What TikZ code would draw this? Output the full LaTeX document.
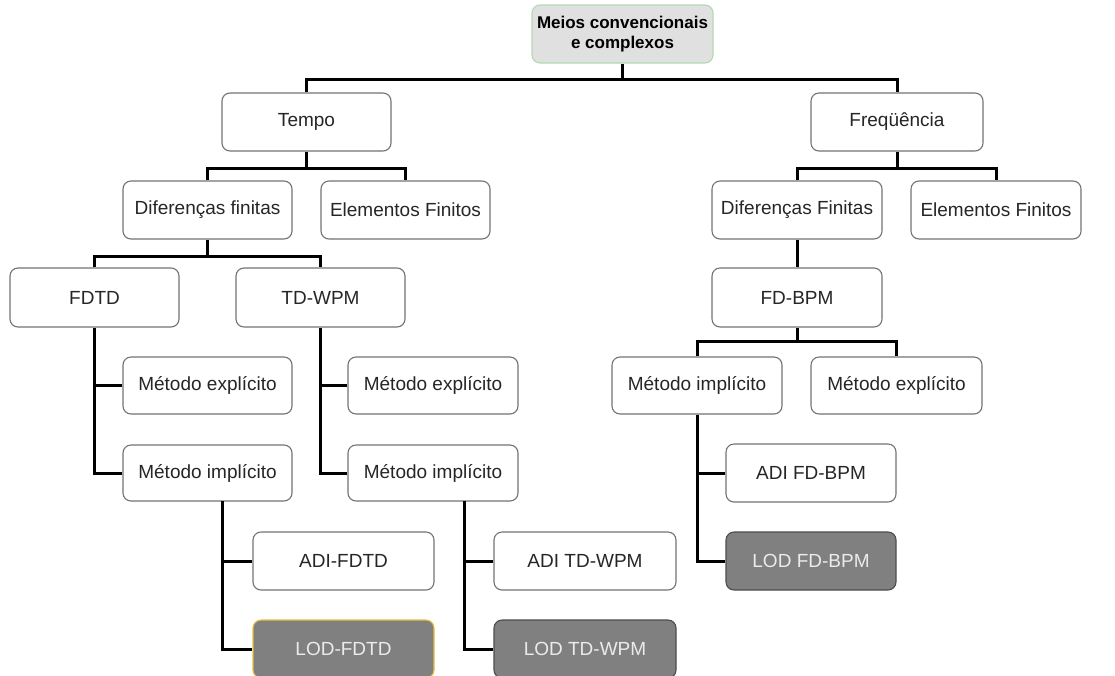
\documentclass[tikz,border=0pt]{standalone}
\usepackage{fontspec}
\setmainfont{Liberation Sans}
\begin{document}
\begin{tikzpicture}[x=1pt,y=-1pt,
  box/.style={draw=black!55, line width=1.1pt, rounded corners=8pt, fill=white, inner sep=0pt,
    font=\fontsize{19}{22}\selectfont, text=black!85},
  rootbox/.style={box, draw=green!50!black!30, fill=black!12, font=\fontsize{17}{19.5}\selectfont\bfseries, align=center, text=black},
  lodbox/.style={box, fill=black!50, draw=black!70, text=black!8},
  conn/.style={line width=3pt, black}]
\useasboundingbox (0,0) rectangle (1115,675);
% nodes
\node[rootbox, minimum width=181, minimum height=58] (root) at (622.5,34) {Meios convencionais\\e complexos};
\node[box, minimum width=169, minimum height=58] (tempo) at (306.5,122) {Tempo};
\node[box, minimum width=172, minimum height=58] (freq) at (897,122) {Freqüência};
\node[box, minimum width=169, minimum height=58] (difL) at (207.5,210) {Diferenças finitas};
\node[box, minimum width=169, minimum height=58] (eleL) at (405.5,210) {Elementos Finitos};
\node[box, minimum width=170, minimum height=58] (difR) at (797,210) {Diferenças Finitas};
\node[box, minimum width=170, minimum height=58] (eleR) at (996,210) {Elementos Finitos};
\node[box, minimum width=169, minimum height=59] (fdtd) at (94.5,297.5) {FDTD};
\node[box, minimum width=169, minimum height=59] (tdwpm) at (320.5,297.5) {TD-WPM};
\node[box, minimum width=170, minimum height=59] (fdbpm) at (797,297.5) {FD-BPM};
\node[box, minimum width=169, minimum height=57] (mexL) at (207.5,385.5) {Método explícito};
\node[box, minimum width=169, minimum height=56] (mimL) at (207.5,473) {Método implícito};
\node[box, minimum width=170, minimum height=57] (mexM) at (433,385.5) {Método explícito};
\node[box, minimum width=170, minimum height=56] (mimM) at (433,473) {Método implícito};
\node[box, minimum width=170, minimum height=57] (mimR) at (697,385.5) {Método implícito};
\node[box, minimum width=171, minimum height=57] (mexR) at (896.5,385.5) {Método explícito};
\node[box, minimum width=170, minimum height=58] (adiR) at (811,473) {ADI FD-BPM};
\node[lodbox, minimum width=170, minimum height=58] (lodR) at (811,561) {LOD FD-BPM};
\node[box, minimum width=181, minimum height=58] (adiL) at (343.5,561) {ADI-FDTD};
\node[lodbox, draw={rgb,255:red,232;green,192;blue,64}, minimum width=181, minimum height=58] (lodL) at (343.5,649) {LOD-FDTD};
\node[box, minimum width=182, minimum height=58] (adiM) at (585,561) {ADI TD-WPM};
\node[lodbox, minimum width=182, minimum height=58] (lodM) at (585,649) {LOD TD-WPM};
% junctions
\coordinate (j0) at (622.5,79);
\coordinate (j1) at (306.5,168);
\coordinate (j2) at (897,168);
\coordinate (j3) at (207.5,256);
\coordinate (j4) at (797,341);
\coordinate (sL) at (222,501);
\coordinate (sM) at (464,501);
% connectors
\draw[conn] (root.south) -- (j0);
\draw[conn] (tempo.north) |- (j0) -| (freq.north);
\draw[conn] (tempo.south) -- (j1);
\draw[conn] (difL.north) |- (j1) -| (eleL.north);
\draw[conn] (freq.south) -- (j2);
\draw[conn] (difR.north) |- (j2) -| (eleR.north);
\draw[conn] (difL.south) -- (j3);
\draw[conn] (fdtd.north) |- (j3) -| (tdwpm.north);
\draw[conn] (difR.south) -- (fdbpm.north);
\draw[conn] (fdbpm.south) -- (j4);
\draw[conn] (mimR.north) |- (j4) -| (mexR.north);
\draw[conn] (fdtd.south) |- (mimL.west);
\draw[conn] (fdtd.south |- mexL.west) -- (mexL.west);
\draw[conn] (tdwpm.south) |- (mimM.west);
\draw[conn] (tdwpm.south |- mexM.west) -- (mexM.west);
\draw[conn] (mimR.south) |- (lodR.west);
\draw[conn] (mimR.south |- adiR.west) -- (adiR.west);
\draw[conn] (sL) |- (lodL.west);
\draw[conn] (sL |- adiL.west) -- (adiL.west);
\draw[conn] (sM) |- (lodM.west);
\draw[conn] (sM |- adiM.west) -- (adiM.west);
\end{tikzpicture}
\end{document}
